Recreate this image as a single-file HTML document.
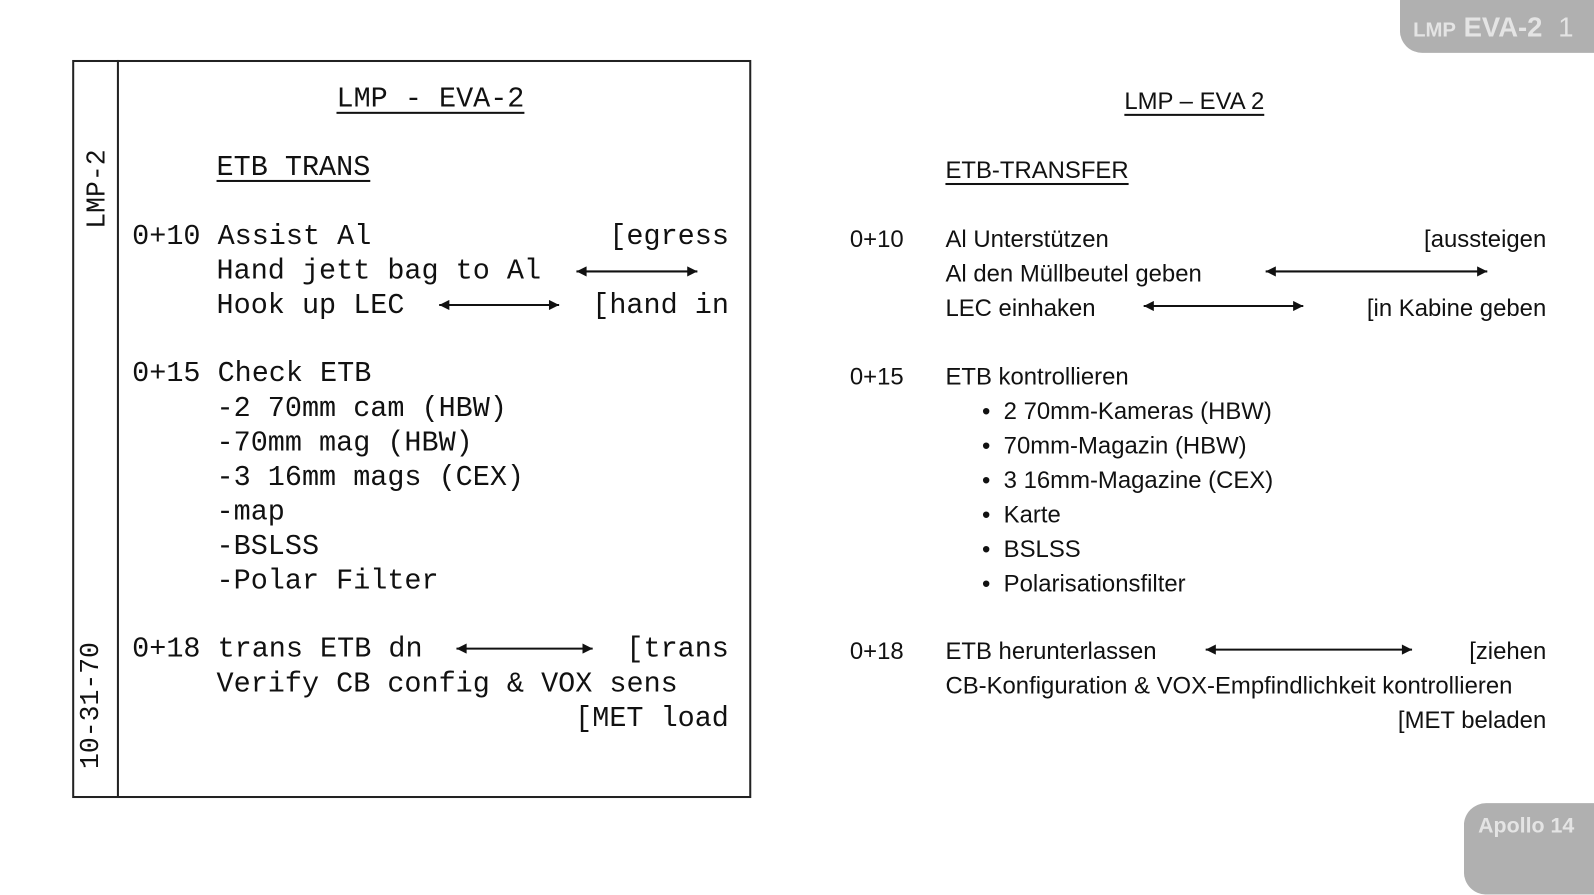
<!DOCTYPE html>
<html><head><meta charset="utf-8"><style>
body{margin:0;width:1594px;height:856px;background:#fff;position:relative;overflow:hidden}
#w{position:absolute;left:0;top:0;width:1568px;height:842px;transform:scale(1.0166);transform-origin:0 0}
.m{position:absolute;font-family:"Liberation Mono",monospace;font-size:28px;line-height:34px;color:#111;white-space:pre}
.s{position:absolute;font-family:"Liberation Sans",sans-serif;font-size:23.5px;line-height:34px;color:#111;white-space:pre}
.r{text-align:right}
.u{text-decoration:underline;text-underline-offset:5px;text-decoration-thickness:1.5px}
.ln{position:absolute;background:#222}
svg{position:absolute;left:0;top:0}
</style></head><body><div id="w">
<div style="position:absolute;left:1377px;top:-20px;width:240px;height:72px;background:#b0b0b0;border-radius:22px"></div>
<div style="position:absolute;left:1390px;top:12px;font-family:'Liberation Sans',sans-serif;font-weight:bold;color:#e4e4e4;font-size:27px;white-space:pre"><span style="font-size:20px">LMP</span> EVA-2 <span style="font-weight:normal;margin-left:8px">1</span></div>
<div style="position:absolute;left:1440px;top:790px;width:180px;height:90px;background:#b0b0b0;border-radius:22px"></div>
<div style="position:absolute;left:1454px;top:801px;font-family:'Liberation Sans',sans-serif;font-weight:bold;color:#e4e4e4;font-size:21px">Apollo 14</div>

<div style="position:absolute;left:71px;top:59px;width:664px;height:722px;border:2px solid #222"></div>
<div class="ln" style="left:115px;top:59px;width:2px;height:724px"></div>
<div class="m" style="left:70px;top:145px;width:50px;height:80px"><div style="position:absolute;left:-13px;top:24px;transform:rotate(-90deg);font-size:26px">LMP-2</div></div>
<div class="m" style="left:70px;top:632px;width:50px;height:130px"><div style="position:absolute;left:-43px;top:45px;transform:rotate(-90deg);font-size:26px">10-31-70</div></div>

<div class="m u" style="left:331px;top:82px">LMP - EVA-2</div>
<div class="m u" style="left:213px;top:149px">ETB TRANS</div>
<div class="m" style="left:130px;top:217px">0+10 Assist Al</div>
<div class="m" style="left:213px;top:251px">Hand jett bag to Al</div>
<div class="m" style="left:213px;top:285px">Hook up LEC</div>
<div class="m r" style="right:851px;top:217px">[egress</div>
<div class="m r" style="right:851px;top:285px">[hand in</div>
<div class="m" style="left:130px;top:352px">0+15 Check ETB</div>
<div class="m" style="left:213px;top:386px">-2 70mm cam (HBW)
-70mm mag (HBW)
-3 16mm mags (CEX)
-map
-BSLSS
-Polar Filter</div>
<div class="m" style="left:130px;top:623px">0+18 trans ETB dn</div>
<div class="m r" style="right:851px;top:623px">[trans</div>
<div class="m" style="left:213px;top:657px">Verify CB config &amp; VOX sens</div>
<div class="m r" style="right:851px;top:691px">[MET load</div>

<div class="s u" style="left:1106px;top:82px">LMP – EVA 2</div>
<div class="s u" style="left:930px;top:150px">ETB-TRANSFER</div>
<div class="s" style="left:836px;top:218px">0+10</div>
<div class="s" style="left:930px;top:218px">Al Unterstützen
Al den Müllbeutel geben
LEC einhaken</div>
<div class="s r" style="right:47px;top:218px">[aussteigen</div>
<div class="s r" style="right:47px;top:286px">[in Kabine geben</div>
<div class="s" style="left:836px;top:353px">0+15</div>
<div class="s" style="left:930px;top:353px">ETB kontrollieren</div>
<div class="s" style="left:966px;top:387px">•  2 70mm-Kameras (HBW)
•  70mm-Magazin (HBW)
•  3 16mm-Magazine (CEX)
•  Karte
•  BSLSS
•  Polarisationsfilter</div>
<div class="s" style="left:836px;top:623px">0+18</div>
<div class="s" style="left:930px;top:623px">ETB herunterlassen
CB-Konfiguration &amp; VOX-Empfindlichkeit kontrollieren</div>
<div class="s r" style="right:47px;top:623px">[ziehen</div>
<div class="s r" style="right:47px;top:691px">[MET beladen</div>

<svg width="1568" height="842">
<defs><marker id="a" viewBox="0 0 10 10" refX="10" refY="5" markerWidth="16" markerHeight="10" orient="auto-start-reverse" markerUnits="userSpaceOnUse"><path d="M0,0 L10,5 L0,10 z" fill="#111"/></marker></defs>
<g stroke="#111" stroke-width="2">
<line x1="567" y1="267" x2="686" y2="267" marker-start="url(#a)" marker-end="url(#a)"/>
<line x1="432" y1="300" x2="550" y2="300" marker-start="url(#a)" marker-end="url(#a)"/>
<line x1="449" y1="638" x2="583" y2="638" marker-start="url(#a)" marker-end="url(#a)"/>
<line x1="1245" y1="267" x2="1463" y2="267" marker-start="url(#a)" marker-end="url(#a)"/>
<line x1="1125" y1="301" x2="1282" y2="301" marker-start="url(#a)" marker-end="url(#a)"/>
<line x1="1186" y1="639" x2="1389" y2="639" marker-start="url(#a)" marker-end="url(#a)"/>
</g></svg>
</div></body></html>
